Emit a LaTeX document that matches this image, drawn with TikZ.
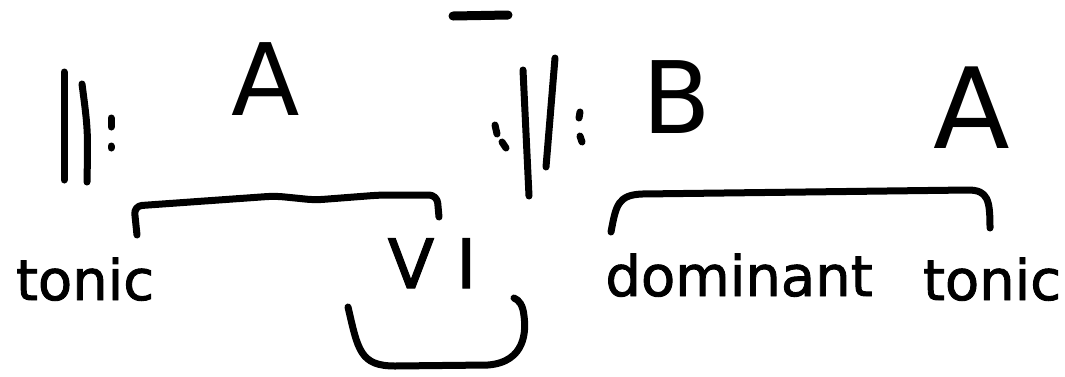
\documentclass[tikz,border=0pt]{standalone}
\usepackage{fontspec}
\setmainfont{DejaVu Sans}
\newfontfamily\inkfont[FakeBold=1.6]{DejaVu Sans}
\begin{document}
\begin{tikzpicture}[x=1pt,y=-1pt,
  ink/.style={line width=7pt,line cap=round,line join=round},
  lbl/.style={inner sep=0pt,anchor=base},
  big/.style={font=\fontsize{100}{110}\selectfont},
  word/.style={font=\inkfont\fontsize{56}{60}\selectfont}]
\useasboundingbox[fill=white] (0,0) rectangle (1065,376);

% repeat sign left
\draw[ink] (64,72) -- (64,180);
\draw[ink] (82,84) .. controls (88,130) .. (87,182);
\draw[ink] (111,118) -- (111,127);
\draw[ink] (111,146) -- (111,148);

% middle repeat sign
\draw[ink] (495,125) -- (497,134);
\draw[ink] (502,142) -- (506,148);
\draw[ink] (523,70) -- (529,196);
\draw[ink] (555,58) -- (546,167);
\draw[ink] (580,112) -- (579,118);
\draw[ink] (580,136) -- (582,142);

% top dash
\draw[line width=9pt,line cap=round] (453,16) -- (508,15);

% labels
\node[lbl,big] (Aleft) at (266,115) {A};
\node[lbl,big] (B) at (677,133) {B};
\node[lbl,font=\fontsize{112}{120}\selectfont] (Aright) at (972,148) {A};
\node[lbl,word] (tonicL) at (85,300) {tonic};
\node[lbl,font=\inkfont\fontsize{68}{72}\selectfont] (VI) at (432,288) {V\hspace{22pt}I};
\node[lbl,word] (dominant) at (739,296) {dominant};
\node[lbl,word] (tonicR) at (992,300) {tonic};

% brackets
\coordinate (lb1) at (137,235);
\coordinate (lb2) at (439,217);
\draw[ink,rounded corners=8pt] (lb1) -- (134,206) -- (275,196) -- (315,200) -- (380,195) -- (437,195) -- (lb2);

\coordinate (rb1) at (611,232);
\coordinate (rb2) at (990,228);
\draw[ink] (rb1) .. controls (616,205) and (618,195) .. (642,194) -- (968,190) .. controls (988,190) and (990,200) .. (rb2);

\coordinate (u1) at (348,307);
\coordinate (u2) at (514,298);
\draw[ink] (u1) .. controls (358,350) and (360,366) .. (395,366) -- (488,365) .. controls (526,362) and (526,330) .. (524,316) .. controls (523,305) and (519,300) .. (u2);
\end{tikzpicture}
\end{document}
